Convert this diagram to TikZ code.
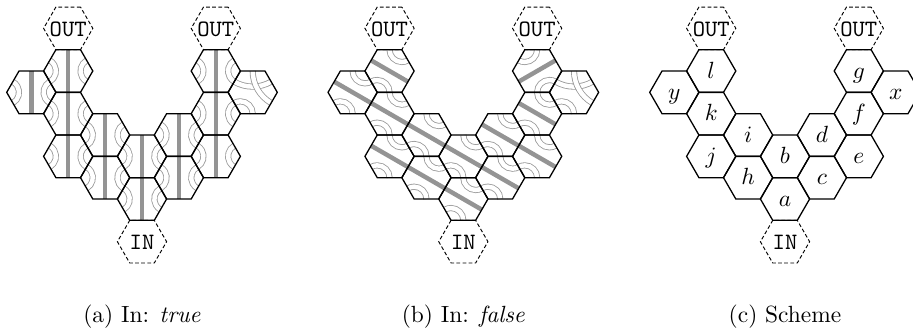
\documentclass[tikz,border=0pt]{standalone}
\usetikzlibrary{positioning, shapes.geometric, backgrounds}

\begin{document}
\begin{tikzpicture}[
    hexcell/.style={regular polygon, regular polygon sides=6, draw, line width=0.55pt,
                    minimum size=0.738cm, inner sep=0pt, outer sep=0pt,
                    text height=8pt, text depth=2pt},
    port/.style={hexcell, line width=0.4pt, dash pattern=on 1.6pt off 1pt, font=\ttfamily,
                 text height=7.3pt, text depth=0.5pt},
    bar/.style={line width=1.9pt, draw=black!42},
    wire/.style={draw=black!40, line width=0.35pt, double=white, double distance=1.9pt, radius=0.1845cm},
    longwire/.style={wire, radius=0.5535cm},
    caption/.style={inner sep=0pt, below=0.62cm of in}
]
    \useasboundingbox (0,0) rectangle (13.695,-4.98);

    % --- posiciones: letra/columna/fila ---
    \def\hexcells{a/0/0, b/0/2, c/1/1, d/1/3, e/2/2, f/2/4, g/2/6, x/3/5,
                  h/-1/1, i/-1/3, j/-2/2, k/-2/4, l/-2/6, y/-3/5}

    % --- (a) In: true ---
    \begin{scope}[xshift=2.13cm, yshift=-2.985cm, x=0.5535cm, y=0.32cm, name prefix=a-]
        \foreach \cell/\col/\row in \hexcells
            \node[hexcell] (\cell) at (\col,\row) {};
        \node[port] (outl) at (-2,8) {\makebox[0pt]{OUT}};
        \node[port] (outr) at (2,8) {\makebox[0pt]{OUT}};
        \node[port] (in) at (0,-2) {\makebox[0pt]{IN}};
        \begin{pgfonlayer}{background}
            \foreach \cell in {a,b,c,d,e,f,g,h,i,j,k,l,y} {
                \draw[bar] (\cell.side 1) -- (\cell.side 4);
                \draw[wire] (\cell.side 3) arc[start angle=-60, end angle=60];
                \draw[wire] (\cell.side 6) arc[start angle=120, end angle=240];
            }
            \draw[wire] (x.side 4) arc[start angle=0, end angle=120];
            \draw[longwire] (x.side 2) arc[start angle=240, end angle=300];
            \draw[longwire] (x.side 1) arc[start angle=180, end angle=240];
        \end{pgfonlayer}
        \node[caption] (capa) {(a) In: \emph{true}};
    \end{scope}

    % --- (b) In: false ---
    \begin{scope}[xshift=6.95cm, yshift=-2.985cm, x=0.5535cm, y=0.32cm, name prefix=b-]
        \foreach \cell/\col/\row in \hexcells
            \node[hexcell] (\cell) at (\col,\row) {};
        \node[port] (outl) at (-2,8) {\makebox[0pt]{OUT}};
        \node[port] (outr) at (2,8) {\makebox[0pt]{OUT}};
        \node[port] (in) at (0,-2) {\makebox[0pt]{IN}};
        \begin{pgfonlayer}{background}
            \foreach \cell in {a,b,c,d,e,f,h,i,j,k,l,y} {
                \draw[bar] (\cell.side 2) -- (\cell.side 5);
                \draw[wire] (\cell.side 1) arc[start angle=180, end angle=300];
                \draw[wire] (\cell.side 4) arc[start angle=0, end angle=120];
            }
            \draw[bar] (g.side 3) -- (g.side 6);
            \draw[wire] (g.side 1) arc[start angle=0, end angle=-120];
            \draw[wire] (g.side 4) arc[start angle=180, end angle=60];
            \draw[wire] (x.side 4) arc[start angle=0, end angle=120];
            \draw[longwire] (x.side 2) arc[start angle=240, end angle=300];
            \draw[longwire] (x.side 1) arc[start angle=180, end angle=240];
        \end{pgfonlayer}
        \node[caption] (capb) {(b) In: \emph{false}};
    \end{scope}

    % --- (c) Scheme ---
    \begin{scope}[xshift=11.775cm, yshift=-2.985cm, x=0.5535cm, y=0.32cm, name prefix=c-]
        \foreach \cell/\col/\row in \hexcells
            \node[hexcell] (\cell) at (\col,\row) {$\cell$};
        \node[port] (outl) at (-2,8) {\makebox[0pt]{OUT}};
        \node[port] (outr) at (2,8) {\makebox[0pt]{OUT}};
        \node[port] (in) at (0,-2) {\makebox[0pt]{IN}};
        \node[caption] (capc) {(c) Scheme};
    \end{scope}
\end{tikzpicture}
\end{document}
